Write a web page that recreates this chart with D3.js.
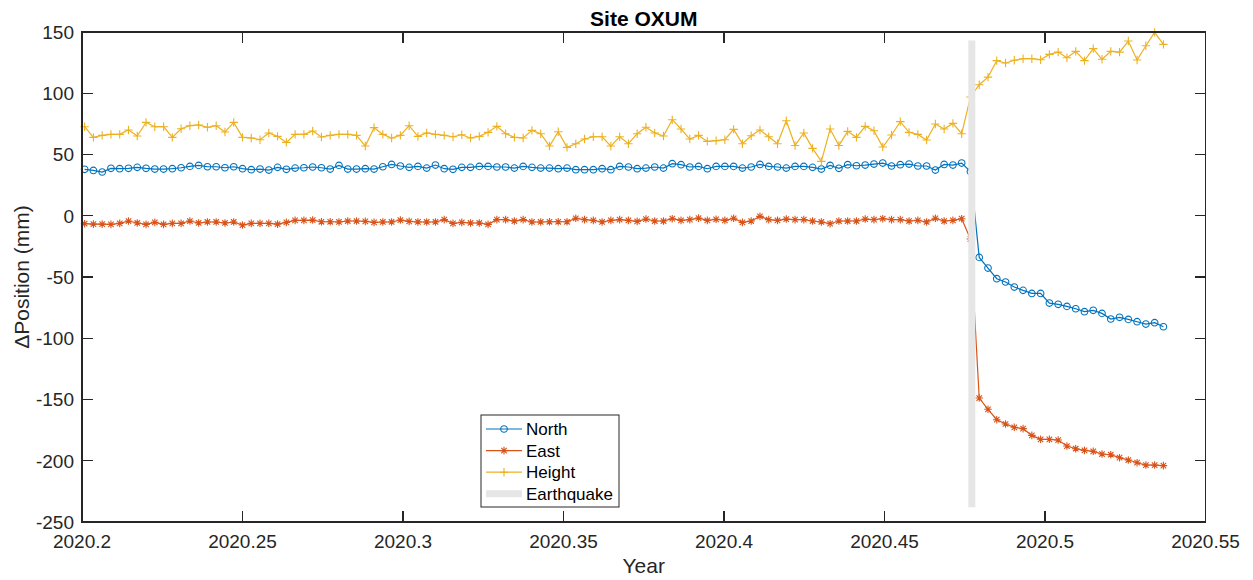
<!DOCTYPE html>
<html lang="en">
<head>
<meta charset="UTF-8">
<title>Site OXUM</title>
<style>
body { margin: 0; background: #fff; }
svg { display: block; font-family: "Liberation Sans", Arial, Helvetica, sans-serif; }
.axis-line { stroke: #262626; stroke-width: 1.2; fill: none; shape-rendering: crispEdges; }
.tick-label { font-size: 19px; fill: #262626; }
.label { font-size: 21px; fill: #262626; }
</style>
</head>
<body>
<script src="https://cdn.jsdelivr.net/npm/d3@7/dist/d3.min.js"></script>
<script>
// daily solutions, first one is day-of-year 73.5 of 2020 (366 days)
const firstDay = 73.5, daysInYear = 366;

const north = [
    37.9, 37.0, 35.7, 38.7, 38.4, 38.7, 39.5, 38.7, 38.1, 38.1, 38.4, 39.2, 40.3, 41.1, 40.0, 40.0, 39.2, 40.0, 38.4, 37.6,
    38.1, 37.3, 39.5, 37.9, 38.9, 39.2, 39.8, 39.2, 38.1, 41.1, 38.1, 38.1, 38.4, 38.1, 40.0, 41.9, 40.6, 39.5, 40.3,
    38.9, 41.4, 38.4, 37.9, 39.5, 39.5, 40.3, 40.3, 39.8, 39.8, 38.9, 40.3, 39.5, 38.9, 38.9, 38.4, 38.9, 37.6, 37.6, 37.6,
    38.4, 37.6, 40.3, 39.8, 38.4, 38.9, 39.8, 38.9, 42.5, 41.7, 39.8, 40.3, 38.4, 40.3, 40.3, 40.3, 38.9, 39.8, 41.9, 40.3,
    39.8, 38.9, 40.3, 40.3, 39.5,
    38.1, 41.1, 38.7, 41.7, 40.8, 41.4, 42.2, 43.0, 40.6, 41.7, 42.2, 40.6, 40.6, 37.3, 41.9, 41.4, 43.0,
    36.0,
    -34.0, -42.7, -51.4, -54.1, -58.2, -60.9, -63.4, -63.4, -71.3, -72.3, -74.0, -75.9, -78.3, -77.2, -79.7, -84.3,
    -82.9, -84.6, -86.5, -88.4, -87.3, -90.6
];

const east = [
    -6.5, -6.8, -6.8, -7.0, -6.2, -4.3, -5.9, -7.0, -5.4, -7.0, -6.2, -6.2, -4.3, -5.9, -5.1, -5.1, -5.9, -5.1, -7.6, -6.2,
    -6.2, -6.2, -6.8, -5.4, -3.8, -3.8, -3.5, -4.9, -4.9, -5.1, -4.3, -4.3, -4.6, -5.4, -5.1, -5.1, -3.5, -4.6, -5.1,
    -5.1, -5.1, -3.2, -6.2, -5.4, -5.9, -5.9, -7.0, -3.2, -3.2, -4.3, -3.2, -5.1, -5.1, -4.9, -4.9, -4.9, -2.1, -3.2, -3.8,
    -5.1, -3.8, -3.2, -3.8, -4.6, -2.7, -4.3, -4.3, -2.4, -3.8, -3.2, -1.9, -3.8, -2.9, -3.8, -2.1, -5.4, -4.3, -0.5, -3.2,
    -3.8, -2.7, -3.2, -3.2, -4.3,
    -5.1, -6.5, -4.3, -4.3, -4.3, -2.7, -3.2, -2.4, -3.2, -3.2, -4.3, -3.8, -5.1, -2.1, -4.3, -3.8, -2.4,
    -19.0,
    -148.8, -158.0, -166.5, -170.0, -172.7, -173.8, -179.3, -182.5, -182.5, -183.1, -188.0, -190.2, -191.5, -192.3,
    -194.5, -195.1, -197.5, -199.4, -201.6, -203.5, -203.5, -204.0
];

const height = [
    72.7, 64.0, 65.6, 66.4, 66.4, 70.0, 65.1, 76.2, 72.7, 72.7, 64.0, 71.0, 73.5, 74.1, 72.2, 73.5, 68.4, 76.2, 64.0, 63.5,
    62.1, 67.6, 64.8, 59.9, 66.4, 66.4, 69.2, 64.3, 65.6, 66.4, 66.4, 65.6, 56.9, 71.9, 66.4, 63.5, 65.6, 73.5, 64.8,
    67.6, 66.4, 65.6, 64.5, 66.1, 63.5, 64.8, 68.1, 73.0, 67.0, 64.0, 63.5, 69.7, 67.0, 56.9, 68.6, 55.8, 58.8, 62.6, 64.5,
    64.5, 56.9, 64.5, 58.8, 67.0, 72.2, 67.6, 65.1, 78.4, 70.8, 62.6, 65.6, 60.7, 61.3, 62.1, 70.5, 58.8, 65.3, 70.0, 64.5,
    58.8, 77.6, 57.4, 67.6, 55.0,
    44.4, 70.8, 57.4, 68.9, 64.0, 73.0, 69.4, 56.1, 65.9, 76.8, 68.1, 66.4, 61.8, 74.9, 70.8, 75.4, 67.0,
    97.0,
    107.0, 113.2, 126.6, 124.7, 126.9, 128.2, 128.2, 127.4, 131.7, 133.6, 129.0, 134.2, 126.6, 136.4, 127.7, 134.2,
    133.6, 142.6, 127.1, 138.8, 149.7, 139.9
];

const eqYear = 2020.4772;
const eqRange = [-238, 143];

const xTicks = [2020.2, 2020.25, 2020.3, 2020.35, 2020.4, 2020.45, 2020.5, 2020.55];
const yTicks = [-250, -200, -150, -100, -50, 0, 50, 100, 150];
const legendNames = ['North', 'East', 'Height', 'Earthquake'];

const svgW = 1253, svgH = 580;
const plotL = 82, plotR = 1205.5, plotT = 32, plotB = 522;

let svg = d3.select('body').append('svg')
    .attr('width', svgW)
    .attr('height', svgH);

let x = d3.scaleLinear().domain([2020.2, 2020.55]).range([plotL, plotR]);
let y = d3.scaleLinear().domain([-250, 150]).range([plotB, plotT]);

let years = north.map((d, i) => 2020 + (firstDay + i) / daysInYear);

// marker shapes
function markerPath(type, s) {
    if (type === 'o') {
        return `M${-s},0a${s},${s} 0 1,0 ${2 * s},0a${s},${s} 0 1,0 ${-2 * s},0`;
    }
    if (type === '+') {
        return `M${-s},0H${s}M0,${-s}V${s}`;
    }
    // asterisk
    let d = s * 0.72;
    return `M${-s},0H${s}M0,${-s}V${s}M${-d},${-d}L${d},${d}M${-d},${d}L${d},${-d}`;
}

let series = [
    {name: 'North', values: north, color: '#0072BD', marker: 'o', size: 3.3},
    {name: 'East', values: east, color: '#D95319', marker: '*', size: 3.8},
    {name: 'Height', values: height, color: '#EDB120', marker: '+', size: 4.2}
];

let line = d3.line()
    .x((d, i) => x(years[i]))
    .y(d => y(d));

let plot = svg.append('g');

series.forEach(s => {
    plot.append('path')
        .attr('d', line(s.values))
        .attr('fill', 'none')
        .attr('stroke', s.color)
        .attr('stroke-width', 1.2);

    plot.selectAll(null)
        .data(s.values)
        .enter()
        .append('path')
        .attr('transform', (d, i) => `translate(${x(years[i])},${y(d)})`)
        .attr('d', markerPath(s.marker, s.size))
        .attr('fill', 'none')
        .attr('stroke', s.color)
        .attr('stroke-width', 1.1);
});

// earthquake marker, drawn over the series
plot.append('line')
    .attr('x1', x(eqYear)).attr('x2', x(eqYear))
    .attr('y1', y(eqRange[0])).attr('y2', y(eqRange[1]))
    .attr('stroke', '#e6e6e6')
    .attr('stroke-width', 7);

// box and ticks
let tickLen = 11;
let axes = svg.append('g');
axes.append('rect')
    .attr('class', 'axis-line')
    .attr('x', plotL).attr('y', plotT)
    .attr('width', plotR - plotL).attr('height', plotB - plotT);

xTicks.forEach(t => {
    axes.append('line').attr('class', 'axis-line')
        .attr('x1', x(t)).attr('x2', x(t)).attr('y1', plotB).attr('y2', plotB - tickLen);
    axes.append('line').attr('class', 'axis-line')
        .attr('x1', x(t)).attr('x2', x(t)).attr('y1', plotT).attr('y2', plotT + tickLen);
    axes.append('text').attr('class', 'tick-label')
        .attr('x', x(t)).attr('y', 548)
        .attr('text-anchor', 'middle')
        .text(d3.format('')(t));
});

yTicks.forEach(t => {
    axes.append('line').attr('class', 'axis-line')
        .attr('x1', plotL).attr('x2', plotL + tickLen).attr('y1', y(t)).attr('y2', y(t));
    axes.append('line').attr('class', 'axis-line')
        .attr('x1', plotR).attr('x2', plotR - tickLen).attr('y1', y(t)).attr('y2', y(t));
    axes.append('text').attr('class', 'tick-label')
        .attr('x', 74).attr('y', y(t) + 6.8)
        .attr('text-anchor', 'end')
        .text(t);
});

// labels
svg.append('text')
    .attr('x', (plotL + plotR) / 2).attr('y', 26)
    .attr('text-anchor', 'middle')
    .style('font-size', '21px').style('font-weight', 'bold').style('fill', '#000')
    .text('Site OXUM');

svg.append('text').attr('class', 'label')
    .attr('x', (plotL + plotR) / 2).attr('y', 573)
    .attr('text-anchor', 'middle')
    .text('Year');

svg.append('text').attr('class', 'label')
    .attr('transform', `translate(29,${(plotT + plotB) / 2}) rotate(-90)`)
    .attr('text-anchor', 'middle')
    .text('\u0394Position (mm)');

// legend
let legend = svg.append('g').attr('transform', 'translate(481,415)');
legend.append('rect')
    .attr('width', 138).attr('height', 92)
    .attr('fill', '#fff')
    .attr('stroke', '#262626')
    .attr('stroke-width', 1);

legendNames.forEach((name, i) => {
    let row = legend.append('g').attr('transform', `translate(0,${14 + i * 21.6})`);
    let s = series.find(d => d.name === name);
    if (s) {
        row.append('line')
            .attr('x1', 5).attr('x2', 41).attr('y1', 0).attr('y2', 0)
            .attr('stroke', s.color).attr('stroke-width', 1.2);
        row.append('path')
            .attr('transform', 'translate(23,0)')
            .attr('d', markerPath(s.marker, s.size))
            .attr('fill', 'none')
            .attr('stroke', s.color)
            .attr('stroke-width', 1.1);
    } else {
        row.append('line')
            .attr('x1', 5).attr('x2', 41).attr('y1', 0).attr('y2', 0)
            .attr('stroke', '#e6e6e6').attr('stroke-width', 7);
    }
    row.append('text')
        .attr('x', 45).attr('y', 6)
        .style('font-size', '17px').style('fill', '#000')
        .text(name);
});
</script>
</body>
</html>
